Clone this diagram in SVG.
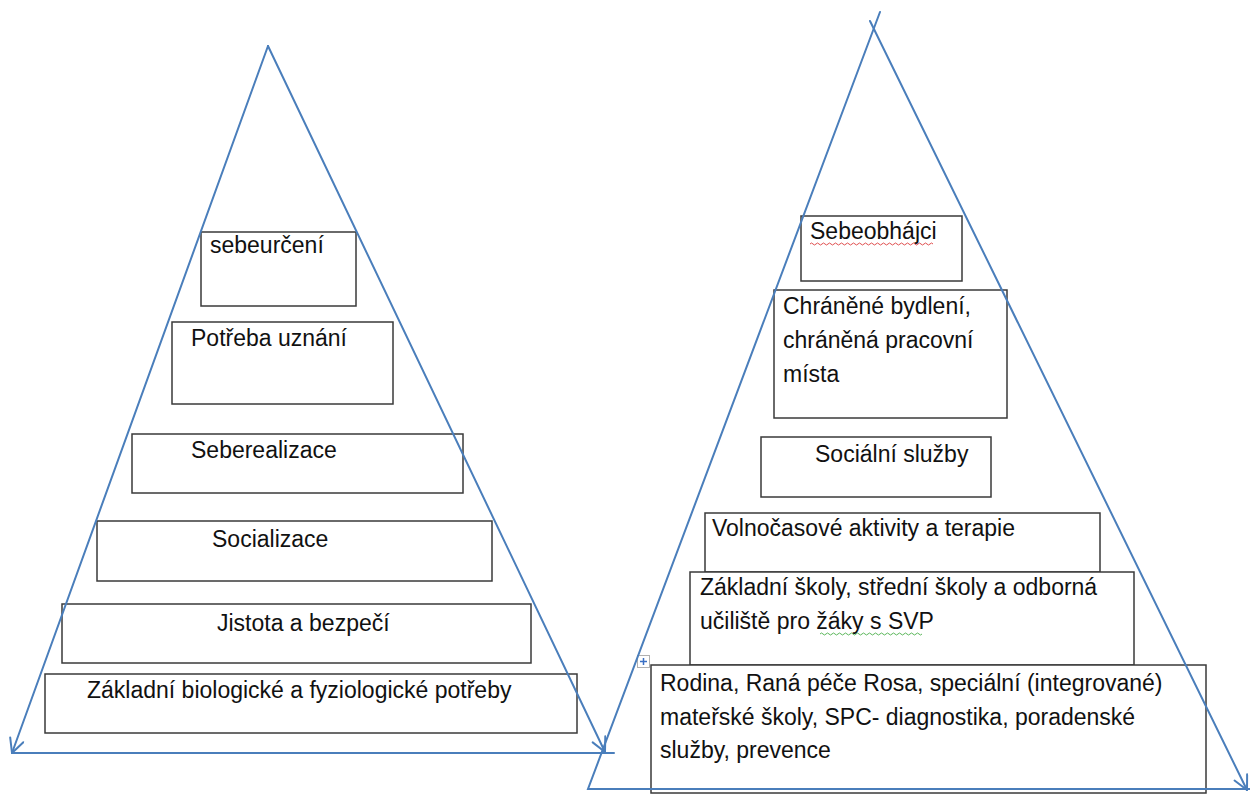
<svg xmlns="http://www.w3.org/2000/svg" width="1250" height="796" viewBox="0 0 1250 796">
<style>
.box{fill:#fff;stroke:#3a3a3a;stroke-width:1.5}
.t{font-family:"Liberation Sans","Noto Sans",sans-serif;font-size:23px;fill:#111}
.ln{fill:none;stroke:#4a7ebb;stroke-width:2;stroke-linecap:round}
.wave{fill:none;stroke-width:1}
</style>
<defs>
<marker id="arr" markerUnits="userSpaceOnUse" markerWidth="20" markerHeight="20" refX="16" refY="8" orient="auto">
<path d="M2,1 L16,8 L2,15" fill="none" stroke="#4a7ebb" stroke-width="2" stroke-linecap="round" stroke-linejoin="round"/>
</marker>
</defs>
<rect width="1250" height="796" fill="#fff"/>

<g id="left-n1"><rect class="box" x="201" y="232" width="155" height="74"/><text class="t" x="210" y="253">sebeurčení</text></g>
<g id="left-n2"><rect class="box" x="172" y="322" width="221" height="82"/><text class="t" x="191" y="346">Potřeba uznání</text></g>
<g id="left-n3"><rect class="box" x="132" y="434" width="331" height="59"/><text class="t" x="191" y="458">Seberealizace</text></g>
<g id="left-n4"><rect class="box" x="97" y="521" width="395" height="60"/><text class="t" x="212" y="547">Socializace</text></g>
<g id="left-n5"><rect class="box" x="62" y="604" width="469" height="59"/><text class="t" x="217" y="631">Jistota a bezpečí</text></g>
<g id="left-n6"><rect class="box" x="45" y="674" width="532" height="59"/><text class="t" x="87" y="698">Základní biologické a fyziologické potřeby</text></g>

<g id="right-n1"><rect class="box" x="801" y="216" width="161" height="65"/><text class="t" x="810" y="239">Sebeobhájci</text>
<path class="wave" stroke="#e05050" d="M810,244 q1.5,-2 3,0 t3,0 t3,0 t3,0 t3,0 t3,0 t3,0 t3,0 t3,0 t3,0 t3,0 t3,0 t3,0 t3,0 t3,0 t3,0 t3,0 t3,0 t3,0 t3,0 t3,0 t3,0 t3,0 t3,0 t3,0 t3,0 t3,0 t3,0 t3,0 t3,0 t3,0 t3,0 t3,0 t3,0 t3,0 t3,0 t3,0 t3,0 t3,0 t3,0 t3,0"/></g>
<g id="right-n2"><rect class="box" x="774" y="290" width="233" height="128"/><text class="t" x="783" y="314">Chráněné bydlení,</text><text class="t" x="783" y="348">chráněná pracovní</text><text class="t" x="783" y="382">místa</text></g>
<g id="right-n3"><rect class="box" x="761" y="437" width="230" height="60"/><text class="t" x="815" y="462">Sociální služby</text></g>
<g id="right-n4"><rect class="box" x="705" y="513" width="395" height="59"/><text class="t" x="712" y="536">Volnočasové aktivity a terapie</text></g>
<g id="right-n5"><rect class="box" x="690" y="572" width="444" height="93"/><text class="t" x="700" y="595">Základní školy, střední školy a odborná</text><text class="t" x="700" y="629">učiliště pro žáky s SVP</text>
<path class="wave" stroke="#5cb85c" d="M820,634 q1.5,-2 3,0 t3,0 t3,0 t3,0 t3,0 t3,0 t3,0 t3,0 t3,0 t3,0 t3,0 t3,0 t3,0 t3,0 t3,0 t3,0 t3,0 t3,0 t3,0 t3,0 t3,0 t3,0 t3,0 t3,0 t3,0 t3,0 t3,0 t3,0 t3,0 t3,0 t3,0 t3,0 t3,0 t3,0"/></g>
<g id="right-n6"><rect class="box" x="651" y="665" width="555" height="128"/><text class="t" x="660" y="691">Rodina, Raná péče Rosa, speciální (integrované)</text><text class="t" x="660" y="725">mateřské školy, SPC- diagnostika, poradenské</text><text class="t" x="660" y="758">služby, prevence</text></g>

<g id="table-handle"><rect x="637.5" y="655.5" width="12" height="12" fill="#fff" stroke="#b0b0b0" stroke-width="1"/><path d="M643.5,658 v7 M640,661.5 h7" stroke="#3a6fc4" stroke-width="1.5"/></g>

<g id="connectors">
<path class="ln" d="M268,46 L12,753" marker-end="url(#arr)"/>
<path class="ln" d="M268,46 L605,752" marker-end="url(#arr)"/>
<path class="ln" d="M12,753 L614,753"/>
<path class="ln" d="M880,12 L588,789 L1250,789"/>
<path class="ln" d="M870,21 L1247,790" marker-end="url(#arr)"/>
</g>
</svg>
